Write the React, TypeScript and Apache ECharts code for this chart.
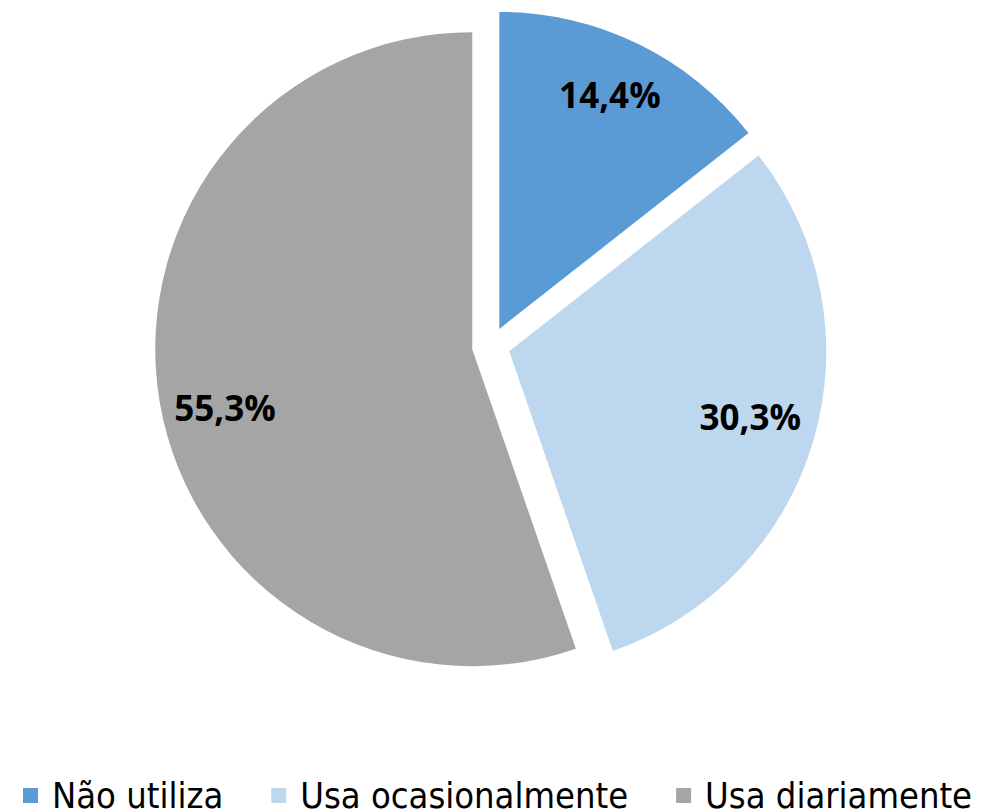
import React, { useEffect, useRef } from "react";
import * as echarts from "echarts";

const categories = ["Não utiliza", "Usa ocasionalmente", "Usa diariamente"];
const values = [14.4, 30.3, 55.3];
const colors = ["#5B9BD5", "#BDD7EE", "#A5A5A5"];
const labelShift: [number, number][] = [
  [40, -89],
  [86, 20],
  [-88, 32],
];

export default function App() {
  const ref = useRef<HTMLDivElement>(null);
  useEffect(() => {
    if (!ref.current) return;
    const chart = echarts.init(ref.current, null, { renderer: "svg" });
    chart.setOption({
      animation: false,
      color: colors,
      legend: {
        data: categories,
        left: 18,
        top: 772,
        width: 964,
        icon: "rect",
        itemWidth: 15,
        itemHeight: 15,
        itemGap: 48,
        selectedMode: false,
        textStyle: {
          fontFamily: "'DejaVu Sans Condensed', 'Liberation Sans Narrow', sans-serif",
          fontSize: 36,
          lineHeight: 37,
          color: "#000",
          padding: [0, 0, 0, 9],
        },
      },
      series: [
        {
          type: "pie",
          center: [491, 346],
          radius: 317,
          startAngle: 90,
          clockwise: true,
          selectedMode: "multiple",
          selectedOffset: 19,
          silent: true,
          labelLine: { show: false },
          label: {
            show: true,
            position: "inside",
            fontFamily: "'Open Sans', sans-serif",
            fontWeight: "bold",
            fontSize: 35,
            color: "#000",
            formatter: (p: any) => p.value.toFixed(1).replace(".", ",") + "%",
          },
          labelLayout: (p: any) => ({
            dx: labelShift[p.dataIndex][0],
            dy: labelShift[p.dataIndex][1],
          }),
          itemStyle: { borderWidth: 0 },
          emphasis: { disabled: true },
          data: categories.map((name, i) => ({
            name,
            value: values[i],
            selected: true,
          })),
        },
      ],
    });
    return () => chart.dispose();
  }, []);
  return (
    <div
      ref={ref}
      style={{ position: "fixed", left: 0, top: 0, width: 982, height: 812, background: "#fff" }}
    />
  );
}
